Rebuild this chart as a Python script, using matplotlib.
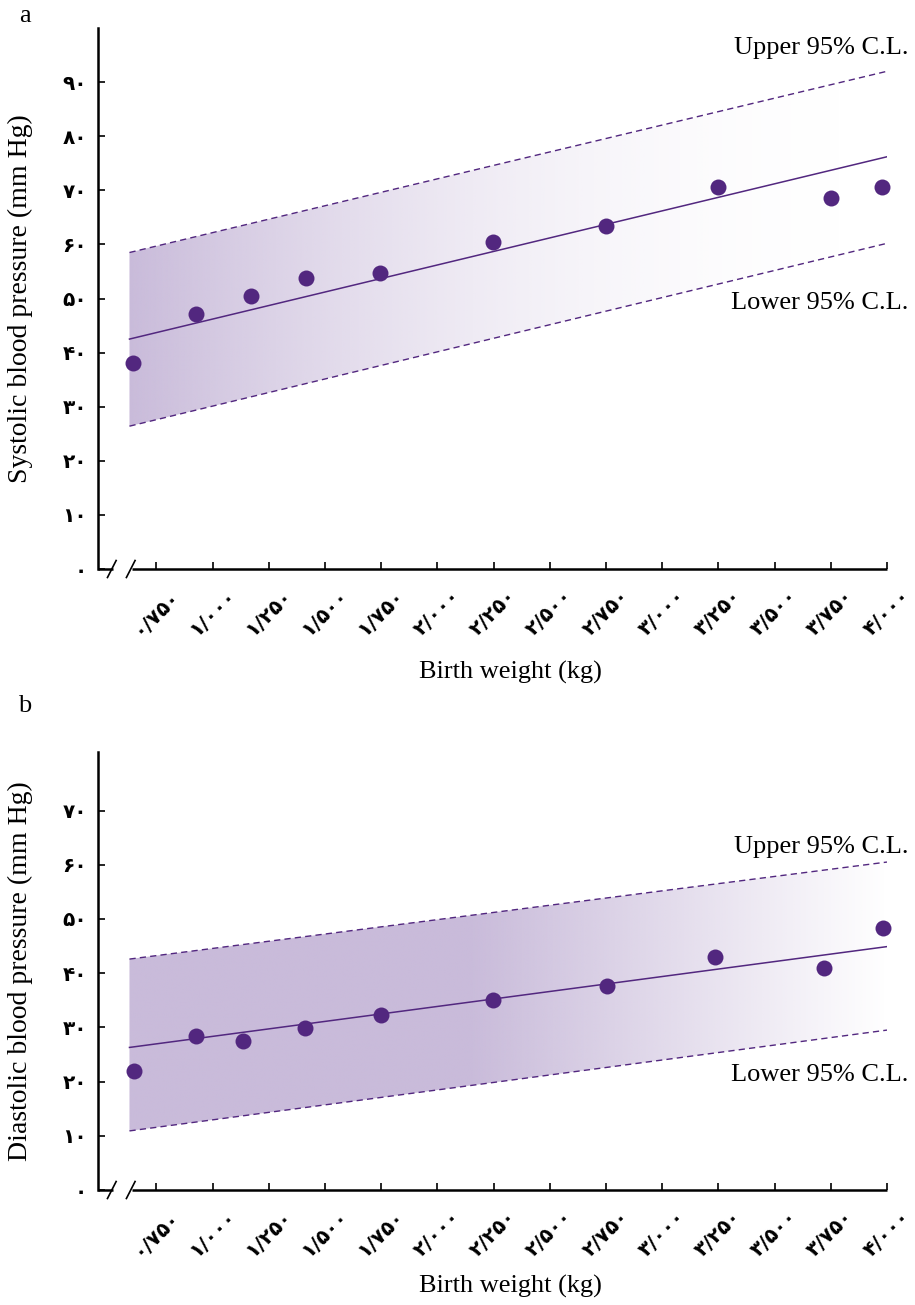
import numpy as np
import matplotlib.pyplot as plt
from matplotlib.patches import Polygon

# panel a: systolic
weight_a = [0.646, 0.927, 1.171, 1.416, 1.745, 2.248, 2.750, 3.250, 3.750, 3.977]
sbp = [38.1, 47.1, 50.4, 53.8, 54.8, 60.5, 63.4, 70.7, 68.5, 70.7]
# panel b: diastolic
weight_b = [0.649, 0.925, 1.137, 1.413, 1.750, 2.245, 2.756, 3.235, 3.720, 3.980]
dbp = [22.0, 28.4, 27.5, 29.8, 32.3, 35.1, 37.7, 43.0, 41.0, 48.3]

# regression line and 95% limits (ends)
fit_x = [0.63, 4.0]
sbp_fit = [42.5, 76.2]
sbp_upper = [58.5, 92.0]
sbp_lower = [26.4, 60.2]
dbp_fit = [26.3, 44.9]
dbp_upper = [42.6, 60.5]
dbp_lower = [10.9, 29.5]

weight_ticks = [0.75, 1.0, 1.25, 1.5, 1.75, 2.0, 2.25, 2.5, 2.75, 3.0, 3.25, 3.5, 3.75, 4.0]
sbp_ticks = [0, 10, 20, 30, 40, 50, 60, 70, 80, 90]
dbp_ticks = [0, 10, 20, 30, 40, 50, 60, 70]

purple = '#52277f'
shade = np.array([201, 187, 218]) / 255.0
serif = ['Liberation Serif', 'DejaVu Serif']
digits = str.maketrans('0123456789', '۰۱۲۳۴۵۶۷۸۹')


def fa(s):
    return s.translate(digits)


W, H = 915, 1305
fig = plt.figure(figsize=(W / 100, H / 100), dpi=100)


def panel(ytop, ybot, ymax, xs, ys, fit, up, lo, yticks, ylabel, letter, letter_y,
          xlab_y, fade):
    ax = fig.add_axes([98 / W, 1 - ybot / H, 789 / W, (ybot - ytop) / H])
    ax.set_xlim(0.49, 4.0)
    ax.set_ylim(0, ymax)

    # gradient band clipped to the confidence polygon
    n = 400
    t = np.linspace(0, 1, n)
    img = np.zeros((2, n, 4))
    img[..., :3] = shade
    img[..., 3] = fade(t)
    poly = Polygon([(fit_x[0], lo[0]), (fit_x[1], lo[1]),
                    (fit_x[1], up[1]), (fit_x[0], up[0])],
                   closed=True, facecolor='none', edgecolor='none')
    ax.add_patch(poly)
    im = ax.imshow(img, extent=[fit_x[0], fit_x[1], 0, ymax], aspect='auto',
                   origin='lower', interpolation='bilinear', zorder=1)
    im.set_clip_path(poly)

    ax.plot(fit_x, up, color=purple, lw=1.0, ls=(0, (4.5, 3)), zorder=2)
    ax.plot(fit_x, lo, color=purple, lw=1.0, ls=(0, (4.5, 3)), zorder=2)
    ax.plot(fit_x, fit, color=purple, lw=1.1, zorder=3)
    ax.plot(xs, ys, 'o', color=purple, ms=11.5, mec='none', zorder=4, clip_on=False)

    for s in ['top', 'right', 'bottom']:
        ax.spines[s].set_visible(False)
    ax.spines['left'].set_linewidth(1.8)

    # broken x axis
    tr = ax.transAxes
    hpx = ybot - ytop
    dy = 8.5 / hpx
    ax.plot([0, 0.019], [0, 0], color='black', lw=1.8, transform=tr, clip_on=False,
            solid_capstyle='butt')
    ax.plot([0.043, 1.0], [0, 0], color='black', lw=1.8, transform=tr, clip_on=False,
            solid_capstyle='butt')
    for sx in [0.0175, 0.0415]:
        ax.plot([sx - 0.0055, sx + 0.0055], [-dy, dy], color='black', lw=1.2,
                transform=tr, clip_on=False)

    ax.set_xticks(weight_ticks)
    ax.set_xticklabels([fa(f'{v:.3f}'.replace('.', '/')) for v in weight_ticks],
                       rotation=45, ha='center', va='top')
    ax.set_yticks(yticks)
    ax.set_yticklabels([fa(str(v)) for v in yticks])
    ax.tick_params(axis='both', direction='in', length=5, width=1.2)
    ax.tick_params(axis='y', pad=8)
    ax.tick_params(axis='x', pad=12)
    for lab in ax.get_xticklabels() + ax.get_yticklabels():
        lab.set_fontfamily('DejaVu Sans')
        lab.set_fontweight('bold')
        lab.set_fontsize(14.5)

    yc = (ytop + ybot) / 2
    fig.text(20 / W, 1 - yc / H, ylabel, rotation=90, ha='center', va='center',
             family=serif, fontsize=20)
    fig.text(510 / W, 1 - xlab_y / H, 'Birth weight (kg)', ha='center',
             va='center', family=serif, fontsize=19)
    fig.text(25 / W, 1 - letter_y / H, letter, ha='center', va='center',
             family=serif, fontsize=19)
    return ax


ax1 = panel(28, 569, 100, weight_a, sbp, sbp_fit, sbp_upper, sbp_lower, sbp_ticks,
            'Systolic blood pressure (mm Hg)', 'a', 16, 672, lambda t: (1 - t) ** 2)
fig.text(908 / W, 1 - 48 / H, 'Upper 95% C.L.', ha='right', va='center',
         family=serif, fontsize=19)
fig.text(908 / W, 1 - 303 / H, 'Lower 95% C.L.', ha='right', va='center',
         family=serif, fontsize=19)

ax2 = panel(752, 1190, 80.8, weight_b, dbp, dbp_fit, dbp_upper, dbp_lower, dbp_ticks,
            'Diastolic blood pressure (mm Hg)', 'b', 706, 1286,
            lambda t: np.clip((1 - t) / 0.55, 0, 1))
fig.text(908 / W, 1 - 847 / H, 'Upper 95% C.L.', ha='right', va='center',
         family=serif, fontsize=19)
fig.text(908 / W, 1 - 1075 / H, 'Lower 95% C.L.', ha='right', va='center',
         family=serif, fontsize=19)

fig.savefig('out.png', dpi=100)
